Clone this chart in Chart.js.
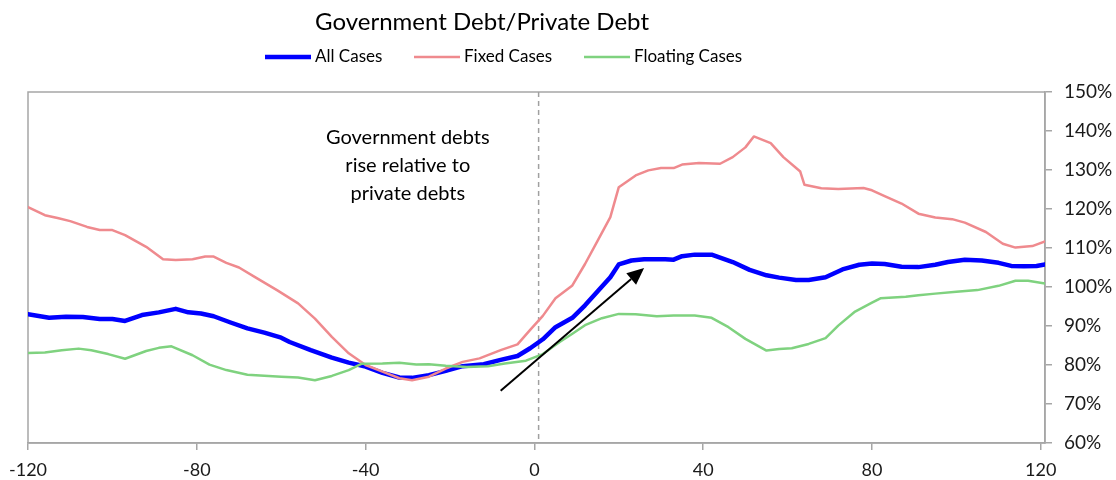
<!DOCTYPE html>
<html><head><meta charset="utf-8">
<script src="https://cdn.jsdelivr.net/npm/chart.js@4"></script>
<style>html,body{margin:0;padding:0;background:#fff}#wrap{width:1116px;height:480px}</style>
</head><body><div id="wrap"><canvas id="c"></canvas></div>
<script>
const chartTitle = 'Government Debt/Private Debt';
const seriesNames = ['All Cases', 'Fixed Cases', 'Floating Cases'];
const xTicks = [-120, -80, -40, 0, 40, 80, 120];
const yTicks = [60, 70, 80, 90, 100, 110, 120, 130, 140, 150];

const allX = [-120,-115,-111,-107,-103,-100,-97,-93,-89,-85,-82,-79,-76,-72,-68,-64,-60,-58,-53,-48,-44,-40,-36,-32,-29,-25,-21,-17,-12,-8,-4,-1,2,5,9,12,15,18,20,23,26,31,33,35,38,42,47,51,55,58,62,65,69,73,77,80,83,87,91,95,98,102,106,110,113,116,119,121];
const allY = [93.0,92.1,92.4,92.3,91.8,91.8,91.3,92.8,93.5,94.4,93.5,93.2,92.5,90.9,89.4,88.3,87.0,85.9,83.8,81.9,80.6,79.6,78.0,76.8,76.7,77.4,78.5,79.7,80.2,81.3,82.3,84.3,86.6,89.7,92.1,95.3,98.9,102.5,105.8,106.8,107.1,107.1,107.0,107.9,108.3,108.3,106.4,104.4,103.0,102.4,101.8,101.8,102.5,104.5,105.7,106.0,105.9,105.2,105.1,105.7,106.4,107.0,106.8,106.2,105.4,105.3,105.4,105.8];

const fixedX = [-120,-116,-113,-110,-106,-103,-100,-97,-92,-88,-85,-81,-78,-76,-73,-70,-66,-61,-56,-52,-48,-44,-40,-36,-32,-29,-25,-21,-17,-13,-8,-4,-1,2,5,9,12,15,18,20,24,27,30,33,35,39,44,47,50,52,56,59,63,64,68,72,78,80,83,87,91,95,99,102,107,111,114,118,121];
const fixedY = [120.5,118.4,117.7,116.9,115.4,114.6,114.6,113.3,110.3,107.1,106.9,107.1,107.8,107.8,106.2,105.0,102.4,99.2,95.8,91.9,87.2,83.0,80.0,78.3,76.6,76.1,77.0,79.1,80.8,81.7,83.8,85.3,89.0,92.6,97.1,100.4,105.9,111.9,117.9,125.6,128.6,129.9,130.5,130.5,131.4,131.8,131.6,133.3,135.8,138.6,136.9,133.3,129.6,126.2,125.3,125.1,125.4,124.8,123.3,121.4,118.8,117.8,117.4,116.5,114.1,111.1,110.1,110.5,111.7];

const floatX = [-120,-116,-112,-108,-105,-101,-97,-92,-89,-86,-81,-77,-73,-68,-63,-60,-56,-52,-48,-44,-41,-36,-32,-28,-25,-21,-16,-11,-7,-2,2,6,9,12,16,20,24,29,33,38,42,46,50,55,58,61,65,69,72,76,80,82,88,91,95,100,105,110,114,117,121];
const floatY = [83.1,83.2,83.8,84.2,83.8,82.8,81.6,83.6,84.4,84.8,82.5,80.1,78.7,77.5,77.2,77.0,76.8,76.1,77.2,78.7,80.3,80.4,80.6,80.1,80.2,79.8,79.5,79.7,80.4,81.1,82.8,85.9,88.0,90.2,92.0,93.1,93.0,92.5,92.7,92.7,92.1,89.7,86.7,83.7,84.1,84.3,85.4,86.9,90.1,93.7,96.0,97.1,97.5,97.9,98.3,98.8,99.2,100.3,101.6,101.6,100.9];

const annotationLines = ['Government debts', 'rise relative to', 'private debts'];
const annotationAt = [-30, 138.4];
const arrowFrom = [-8, 73.4];
const arrowTo = [26, 104.9];
const eventX = 1;

const pts = (xs, ys) => xs.map((x, i) => ({x: x, y: ys[i]}));
const FONT = 'Lato, "Open Sans", sans-serif';
const GREY = '#a6a6a6';

const deco = {
  id: 'deco',
  beforeDatasetsDraw(chart) {
    const {ctx, chartArea: a, scales: {x}} = chart;
    ctx.save();
    ctx.strokeStyle = GREY; ctx.lineWidth = 1.5;
    ctx.strokeRect(a.left, a.top, a.right - a.left, a.bottom - a.top);
    const ex = x.getPixelForValue(eventX);
    ctx.setLineDash([5, 4]); ctx.lineWidth = 1.5; ctx.strokeStyle = '#a0a0a0';
    ctx.beginPath(); ctx.moveTo(ex, a.top); ctx.lineTo(ex, a.bottom); ctx.stroke();
    ctx.restore();
  },
  afterDraw(chart) {
    const {ctx, scales: {x, y}} = chart;
    ctx.save();
    // title
    ctx.fillStyle = '#000'; ctx.textBaseline = 'middle'; ctx.textAlign = 'center';
    ctx.font = '24px ' + FONT;
    ctx.fillText(chartTitle, 482, 22);
    // legend
    ctx.font = '17px ' + FONT; ctx.textAlign = 'left';
    const legendX = [265, 414, 584];
    chart.data.datasets.forEach((d, i) => {
      const lx = legendX[i];
      ctx.strokeStyle = d.borderColor; ctx.lineWidth = d.borderWidth;
      ctx.beginPath(); ctx.moveTo(lx, 57); ctx.lineTo(lx + 46, 57); ctx.stroke();
      ctx.fillStyle = '#000';
      ctx.fillText(d.label, lx + 50, 57);
    });
    // annotation text
    ctx.font = '20px ' + FONT; ctx.textAlign = 'center';
    const ax = x.getPixelForValue(annotationAt[0]);
    const ay = y.getPixelForValue(annotationAt[1]);
    annotationLines.forEach((t, i) => ctx.fillText(t, ax, ay + i * 28));
    // arrow
    const x0 = x.getPixelForValue(arrowFrom[0]), y0 = y.getPixelForValue(arrowFrom[1]);
    const x1 = x.getPixelForValue(arrowTo[0]), y1 = y.getPixelForValue(arrowTo[1]);
    const ang = Math.atan2(y1 - y0, x1 - x0), hl = 17, hw = 7.5;
    const bx = x1 - hl * Math.cos(ang), by = y1 - hl * Math.sin(ang);
    ctx.strokeStyle = '#000'; ctx.lineWidth = 2;
    ctx.beginPath(); ctx.moveTo(x0, y0); ctx.lineTo(bx, by); ctx.stroke();
    ctx.fillStyle = '#000';
    ctx.beginPath();
    ctx.moveTo(x1, y1);
    ctx.lineTo(bx + hw * Math.sin(ang), by - hw * Math.cos(ang));
    ctx.lineTo(bx - hw * Math.sin(ang), by + hw * Math.cos(ang));
    ctx.closePath(); ctx.fill();
    ctx.restore();
  }
};

new Chart(document.getElementById('c'), {
  type: 'line',
  data: {
    datasets: [
      {label: seriesNames[0], data: pts(allX, allY), borderColor: '#0000ff', borderWidth: 4.5, order: 3},
      {label: seriesNames[1], data: pts(fixedX, fixedY), borderColor: '#ef8a8e', borderWidth: 2.5, order: 2},
      {label: seriesNames[2], data: pts(floatX, floatY), borderColor: '#7fd27f', borderWidth: 2.5, order: 1}
    ]
  },
  options: {
    responsive: true, maintainAspectRatio: false, animation: false,
    elements: {point: {radius: 0}, line: {tension: 0, borderJoinStyle: 'round', borderCapStyle: 'round'}},
    layout: {padding: {top: 92, left: 27, right: 0, bottom: 0}},
    plugins: {legend: {display: false}, title: {display: false}, tooltip: {enabled: false}},
    scales: {
      x: {
        type: 'linear', min: -120, max: 121,
        afterBuildTicks: s => { s.ticks = xTicks.map(v => ({value: v})); },
        ticks: {callback: v => String(v), font: {family: FONT, size: 18}, color: '#1a1a1a', padding: 9, maxRotation: 0, autoSkip: false},
        grid: {drawOnChartArea: false, tickLength: 7, color: GREY, lineWidth: 1.5},
        border: {display: true, color: GREY, width: 1.5},
        afterFit: s => { s.height = 37; }
      },
      y: {
        position: 'right', min: 60, max: 150,
        afterBuildTicks: s => { s.ticks = yTicks.map(v => ({value: v})); },
        ticks: {callback: v => v + '%', font: {family: FONT, size: 19}, color: '#1a1a1a', padding: 12},
        grid: {drawOnChartArea: false, tickLength: 7, color: GREY, lineWidth: 1.5},
        border: {display: true, color: GREY, width: 1.5},
        afterFit: s => { s.width = 71; }
      }
    }
  },
  plugins: [deco]
});
</script>
</body></html>
